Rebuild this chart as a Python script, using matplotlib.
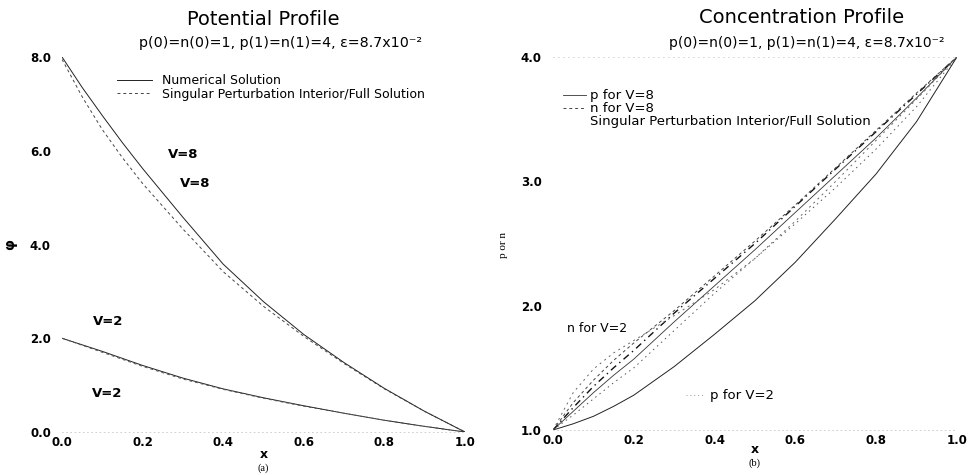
import matplotlib
matplotlib.use("Agg")
import matplotlib.pyplot as plt
from matplotlib.lines import Line2D

plt.rcParams['font.family'] = ['DejaVu Sans']

# (a) potential profile
xa = [0.0, 0.05, 0.1, 0.15, 0.2, 0.3, 0.4, 0.5, 0.6, 0.7, 0.8, 0.9, 1.0]
phi8_num = [8.0, 7.35, 6.75, 6.17, 5.62, 4.58, 3.58, 2.78, 2.08, 1.48, 0.93, 0.44, 0.0]
phi8_sp = [7.95, 7.15, 6.45, 5.85, 5.30, 4.33, 3.42, 2.68, 2.04, 1.46, 0.92, 0.44, 0.0]
phi2_num = [2.0, 1.86, 1.72, 1.57, 1.42, 1.15, 0.92, 0.73, 0.56, 0.40, 0.25, 0.12, 0.0]
phi2_sp = [2.0, 1.85, 1.70, 1.55, 1.40, 1.13, 0.91, 0.72, 0.55, 0.40, 0.25, 0.12, 0.0]

# (b) concentration profile
xb = [0.0, 0.05, 0.1, 0.15, 0.2, 0.3, 0.4, 0.5, 0.6, 0.7, 0.8, 0.9, 1.0]
p_low = [1.0, 1.05, 1.11, 1.19, 1.28, 1.51, 1.77, 2.04, 2.35, 2.70, 3.06, 3.48, 4.0]
p_mid = [1.0, 1.15, 1.30, 1.44, 1.57, 1.87, 2.16, 2.45, 2.75, 3.05, 3.35, 3.67, 4.0]
sp_dot = [1.0, 1.12, 1.25, 1.38, 1.50, 1.80, 2.10, 2.38, 2.66, 2.95, 3.26, 3.60, 4.0]
sp_dashdot = [1.0, 1.18, 1.35, 1.50, 1.64, 1.94, 2.22, 2.50, 2.80, 3.10, 3.40, 3.70, 4.0]
n_dash = [1.0, 1.22, 1.40, 1.56, 1.70, 1.96, 2.24, 2.52, 2.81, 3.11, 3.41, 3.71, 4.0]
n_top = [1.0, 1.30, 1.49, 1.62, 1.72, 1.92, 2.13, 2.38, 2.68, 3.00, 3.33, 3.66, 4.0]

xticks = [0.0, 0.2, 0.4, 0.6, 0.8, 1.0]
subtitle = "p(0)=n(0)=1, p(1)=n(1)=4, \u03b5=8.7x10\u207b\u00b2"

fig = plt.figure(figsize=(9.71, 4.75), dpi=100)
ax1 = fig.add_axes([0.0639, 0.0905, 0.415, 0.7895])
ax2 = fig.add_axes([0.5695, 0.0947, 0.416, 0.7853])

for ax in (ax1, ax2):
    for s in ax.spines.values():
        s.set_visible(False)
    ax.spines['bottom'].set_visible(True)
    ax.spines['bottom'].set_color('#c8c8c8')
    ax.spines['bottom'].set_linestyle((0, (1, 4)))
    ax.spines['bottom'].set_linewidth(0.6)
    ax.set_xlim(0, 1)
    ax.set_xticks(xticks)
    ax.set_xticklabels(['%.1f' % t for t in xticks], fontweight='bold')
    ax.tick_params(length=0, labelsize=8.5)
    ax.tick_params(axis='y', pad=8)
    ax.tick_params(axis='x', pad=3)

ax2.spines['top'].set_visible(True)
ax2.spines['top'].set_color('#d0d0d0')
ax2.spines['top'].set_linestyle((0, (1, 5)))
ax2.spines['top'].set_linewidth(0.6)

# left panel
ax1.plot(xa, phi8_num, color='#222222', lw=0.7, label='Numerical Solution')
ax1.plot(xa, phi8_sp, color='#444444', lw=0.7, ls=(0, (3, 3)),
         label='Singular Perturbation Interior/Full Solution')
ax1.plot(xa, phi2_num, color='#222222', lw=0.7)
ax1.plot(xa, phi2_sp, color='#555555', lw=0.7, ls=(0, (3, 3)))
ax1.set_ylim(0, 8)
ax1.set_yticks([0, 2, 4, 6, 8])
ax1.set_yticklabels(['0.0', '2.0', '4.0', '6.0', '8.0'], fontweight='bold')
ax1.text(0.263, 5.91, 'V=8', fontsize=9.5, fontweight='bold', va='center')
ax1.text(0.293, 5.31, 'V=8', fontsize=9.5, fontweight='bold', va='center')
ax1.text(0.077, 2.35, 'V=2', fontsize=9.5, fontweight='bold', va='center')
ax1.text(0.074, 0.83, 'V=2', fontsize=9.5, fontweight='bold', va='center')
ax1.legend(loc='upper left', bbox_to_anchor=(0.136, 0.955), frameon=False,
           fontsize=9, borderpad=0, borderaxespad=0, handlelength=2.8,
           handletextpad=0.8, labelspacing=0.05)
ax1.text(0.499, 1.099, 'Potential Profile', transform=ax1.transAxes,
         ha='center', va='center', fontsize=14)
ax1.text(0.543, 1.037, subtitle, transform=ax1.transAxes,
         ha='center', va='center', fontsize=10.3)
ax1.set_ylabel('\u03c6', fontsize=10, fontweight='bold')
ax1.yaxis.set_label_coords(-0.112, 0.501)
ax1.text(0.5, -0.061, 'x', transform=ax1.transAxes, ha='center', va='center',
         fontsize=9, fontweight='bold')
ax1.text(0.5, -0.097, '(a)', transform=ax1.transAxes, ha='center', va='center',
         fontsize=7.5, family='Liberation Serif')

# right panel
ax2.plot(xb, p_low, color='#222222', lw=0.7)
ax2.plot(xb, p_mid, color='#333333', lw=0.6, label='p for V=8')
ax2.plot(xb, sp_dot, color='#555555', lw=0.7, ls=(0, (1.5, 4)))
ax2.plot(xb, sp_dashdot, color='#111111', lw=1.0, ls=(0, (5, 3, 1, 3)))
ax2.plot(xb, n_dash, color='#444444', lw=0.7, ls=(0, (3, 3)), label='n for V=8')
ax2.plot(xb, n_top, color='#666666', lw=0.7, ls=(0, (2, 4)))
ax2.set_ylim(1, 4)
ax2.set_yticks([1, 2, 3, 4])
ax2.set_yticklabels(['1.0', '2.0', '3.0', '4.0'], fontweight='bold')
ax2.text(0.035, 1.82, 'n for V=2', fontsize=9, va='center')
ax2.plot([0.33, 0.374], [1.28, 1.28], color='#999999', lw=0.7, ls=(0, (1, 3)))
ax2.text(0.389, 1.28, 'p for V=2', fontsize=9.5, va='center')
handles, labels = ax2.get_legend_handles_labels()
handles.append(Line2D([], [], ls='none'))
labels.append('Singular Perturbation Interior/Full Solution')
ax2.legend(handles, labels, loc='upper left', bbox_to_anchor=(0.025, 0.913),
           frameon=False, fontsize=9.5, borderpad=0, borderaxespad=0,
           handlelength=1.7, handletextpad=0.35, labelspacing=0.0)
ax2.text(0.616, 1.105, 'Concentration Profile', transform=ax2.transAxes,
         ha='center', va='center', fontsize=14)
ax2.text(0.627, 1.038, subtitle, transform=ax2.transAxes,
         ha='center', va='center', fontsize=10)
ax2.set_ylabel('p or n', fontsize=8, family='Liberation Serif')
ax2.yaxis.set_label_coords(-0.111, 0.496)
ax2.text(0.5, -0.051, 'x', transform=ax2.transAxes, ha='center', va='center',
         fontsize=9, fontweight='bold')
ax2.text(0.5, -0.09, '(b)', transform=ax2.transAxes, ha='center', va='center',
         fontsize=7.5, family='Liberation Serif')

plt.savefig('out.png', dpi=100)
plt.close()
